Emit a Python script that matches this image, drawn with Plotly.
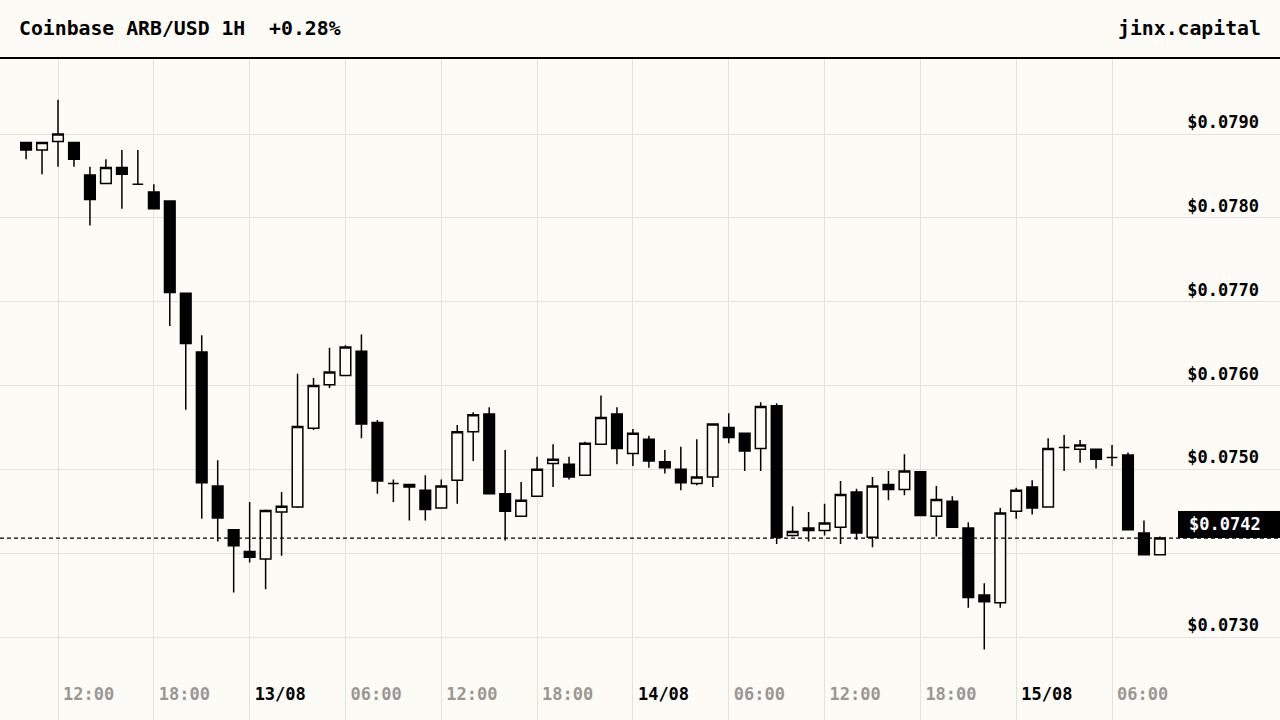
import plotly.graph_objects as go
import pandas as pd

BG = "#fdfbf6"
GRID = "#e4e1dc"
GREY = "#9a9792"
FONT = "DejaVu Sans Mono"

# hourly candles, Coinbase ARB/USD, 12/08 10:00 -> 15/08 09:00
times = pd.date_range("2024-08-12 10:00", periods=72, freq="h")

open_ = [0.07890, 0.07881, 0.07891, 0.07890, 0.07851, 0.07841, 0.07860, 0.07840, 0.07831, 0.07820,
         0.07710, 0.07640, 0.07480, 0.07428, 0.07402, 0.07393, 0.07449, 0.07455, 0.07549, 0.07601,
         0.07612, 0.07641, 0.07556, 0.07483, 0.07482, 0.07475, 0.07454, 0.07487, 0.07545, 0.07566,
         0.07471, 0.07444, 0.07468, 0.07507, 0.07506, 0.07493, 0.07530, 0.07566, 0.07519, 0.07536,
         0.07509, 0.07500, 0.07483, 0.07491, 0.07550, 0.07543, 0.07525, 0.07576, 0.07421, 0.07430,
         0.07427, 0.07431, 0.07473, 0.07419, 0.07482, 0.07476, 0.07497, 0.07444, 0.07462, 0.07430,
         0.07350, 0.07341, 0.07450, 0.07479, 0.07455, 0.07526, 0.07524, 0.07524, 0.07514, 0.07517,
         0.07424, 0.07398]
high = [0.07890, 0.07890, 0.07941, 0.07890, 0.07861, 0.07870, 0.07881, 0.07881, 0.07840, 0.07820,
        0.07710, 0.07660, 0.07511, 0.07428, 0.07461, 0.07452, 0.07473, 0.07614, 0.07609, 0.07645,
        0.07648, 0.07661, 0.07559, 0.07488, 0.07482, 0.07493, 0.07488, 0.07553, 0.07568, 0.07574,
        0.07523, 0.07485, 0.07515, 0.07530, 0.07515, 0.07533, 0.07588, 0.07574, 0.07548, 0.07540,
        0.07523, 0.07527, 0.07536, 0.07554, 0.07567, 0.07543, 0.07580, 0.07579, 0.07456, 0.07449,
        0.07459, 0.07486, 0.07477, 0.07491, 0.07498, 0.07518, 0.07497, 0.07480, 0.07468, 0.07437,
        0.07364, 0.07454, 0.07478, 0.07487, 0.07537, 0.07541, 0.07535, 0.07524, 0.07529, 0.07520,
        0.07439, 0.07420]
low = [0.07870, 0.07852, 0.07861, 0.07861, 0.07791, 0.07841, 0.07811, 0.07840, 0.07811, 0.07671,
       0.07571, 0.07441, 0.07414, 0.07353, 0.07389, 0.07357, 0.07397, 0.07454, 0.07547, 0.07597,
       0.07612, 0.07537, 0.07471, 0.07461, 0.07439, 0.07439, 0.07454, 0.07459, 0.07510, 0.07471,
       0.07415, 0.07444, 0.07468, 0.07479, 0.07488, 0.07493, 0.07530, 0.07506, 0.07504, 0.07502,
       0.07495, 0.07475, 0.07481, 0.07479, 0.07531, 0.07498, 0.07498, 0.07411, 0.07420, 0.07414,
       0.07421, 0.07411, 0.07416, 0.07407, 0.07463, 0.07469, 0.07445, 0.07420, 0.07431, 0.07335,
       0.07285, 0.07335, 0.07441, 0.07446, 0.07455, 0.07498, 0.07508, 0.07501, 0.07504, 0.07427,
       0.07398, 0.07398]
close = [0.07881, 0.07890, 0.07900, 0.07870, 0.07822, 0.07860, 0.07852, 0.07840, 0.07811, 0.07711,
         0.07650, 0.07484, 0.07442, 0.07409, 0.07395, 0.07451, 0.07456, 0.07551, 0.07600, 0.07616,
         0.07646, 0.07554, 0.07486, 0.07483, 0.07479, 0.07452, 0.07480, 0.07545, 0.07565, 0.07471,
         0.07450, 0.07463, 0.07500, 0.07512, 0.07491, 0.07531, 0.07562, 0.07525, 0.07543, 0.07510,
         0.07502, 0.07484, 0.07491, 0.07554, 0.07538, 0.07522, 0.07575, 0.07419, 0.07426, 0.07427,
         0.07436, 0.07470, 0.07424, 0.07480, 0.07476, 0.07498, 0.07445, 0.07464, 0.07431, 0.07347,
         0.07342, 0.07448, 0.07475, 0.07454, 0.07525, 0.07526, 0.07529, 0.07512, 0.07514, 0.07428,
         0.07398, 0.07418]

tick_times = ["2024-08-12 12:00", "2024-08-12 18:00", "2024-08-13 00:00", "2024-08-13 06:00",
              "2024-08-13 12:00", "2024-08-13 18:00", "2024-08-14 00:00", "2024-08-14 06:00",
              "2024-08-14 12:00", "2024-08-14 18:00", "2024-08-15 00:00", "2024-08-15 06:00"]
tick_labels = ["12:00", "18:00", "13/08", "06:00", "12:00", "18:00", "14/08", "06:00",
               "12:00", "18:00", "15/08", "06:00"]
price_ticks = [0.0730, 0.0740, 0.0750, 0.0760, 0.0770, 0.0780, 0.0790]

last = close[-1]
# date labels are black, hour labels grey
tick_text = [f'<span style="color:#000000">{t}</span>' if "/" in t else t for t in tick_labels]
# the price tag hides the axis label right next to it
price_text = ["" if abs(v - last) < 0.0003 else f"${v:.4f}" for v in price_ticks]

fig = go.Figure(go.Candlestick(
    x=times, open=open_, high=high, low=low, close=close,
    increasing=dict(line=dict(color="#000000", width=1.5), fillcolor=BG),
    decreasing=dict(line=dict(color="#000000", width=1.5), fillcolor="#000000"),
    whiskerwidth=0,
))

fig.update_layout(
    width=1280, height=720,
    paper_bgcolor=BG, plot_bgcolor=BG,
    margin=dict(l=0, r=0, t=58, b=0),
    showlegend=False,
    boxgap=0.3, boxgroupgap=0.05,
    font=dict(family=FONT),
)

fig.update_xaxes(
    type="date",
    range=["2024-08-12 08:22:05", "2024-08-15 16:31:05"],
    rangeslider_visible=False,
    tickvals=tick_times, ticktext=tick_text,
    ticklabelposition="inside right", ticklabeloverflow="allow",
    ticks="", ticklabelstandoff=11, ticklabelshift=5,
    tickfont=dict(family=FONT, size=17, color=GREY, weight="bold"),
    showgrid=True, gridcolor=GRID, gridwidth=1,
    zeroline=False, showline=False,
)

fig.update_yaxes(
    side="right",
    range=[0.07201, 0.079907],
    tickvals=price_ticks, ticktext=price_text,
    ticklabelposition="inside top", ticklabeloverflow="allow",
    ticks="", ticklabelstandoff=18,
    tickfont=dict(family=FONT, size=17, color="#000000", weight="bold"),
    showgrid=True, gridcolor=GRID, gridwidth=1,
    zeroline=False, showline=False,
)

# last price: dashed line + black tag
fig.add_shape(type="line", xref="paper", x0=0, x1=1, yref="y", y0=last, y1=last,
              line=dict(color="#000000", width=1.2, dash="4px,3px"))
fig.add_shape(type="rect", xref="paper", x0=1178 / 1280, x1=1,
              yref="y", ysizemode="pixel", yanchor=last, y0=0, y1=27,
              fillcolor="#000000", line=dict(width=0), layer="above")
fig.add_annotation(text=f"${last:.4f}", xref="paper", x=1263 / 1280, xanchor="right",
                   yref="y", y=last, yanchor="bottom", yshift=2, showarrow=False,
                   font=dict(family=FONT, size=17, color="#ffffff", weight="bold"))

# header
fig.add_shape(type="line", xref="paper", x0=0, x1=1, yref="paper", y0=1, y1=1,
              line=dict(color="#000000", width=2))
fig.add_annotation(text="Coinbase ARB/USD 1H\u00a0 +0.28%", xref="paper", x=17 / 1280, xanchor="left",
                   yref="paper", y=1, yanchor="middle", yshift=30, showarrow=False,
                   font=dict(family=FONT, size=19.8, color="#000000", weight="bold"))
fig.add_annotation(text="jinx.capital", xref="paper", x=1263 / 1280, xanchor="right",
                   yref="paper", y=1, yanchor="middle", yshift=30, showarrow=False,
                   font=dict(family=FONT, size=19.8, color="#000000", weight="bold"))

fig.write_html("out.html", config={"displayModeBar": False},
               post_script="document.body.style.margin='0';")
